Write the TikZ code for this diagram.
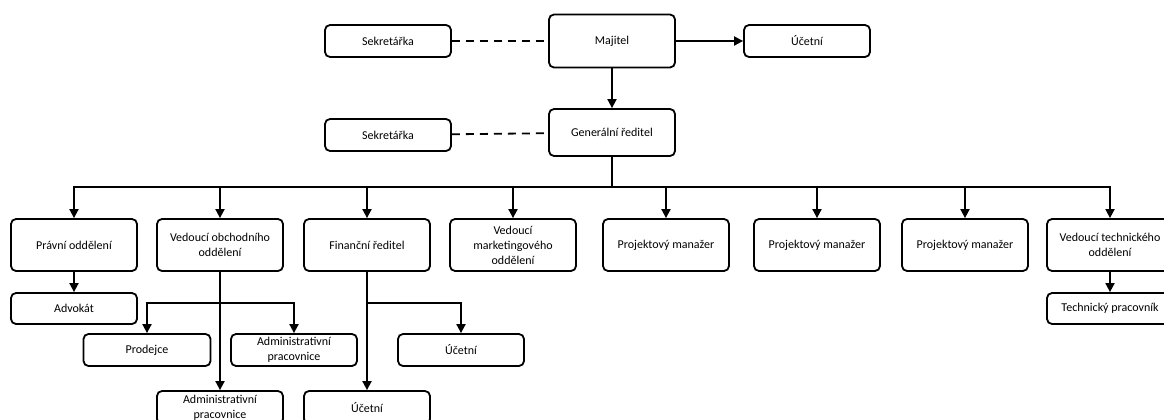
\documentclass[tikz,border=0pt]{standalone}
\usepackage{fontspec}
\setmainfont{Carlito}
\usepackage{tikz}
\usetikzlibrary{arrows.meta}

\begin{document}
\begin{tikzpicture}[x=1pt, y=-1pt,
		box/.style={draw, line width=1.8pt, rounded corners=5pt, inner sep=0pt, align=center,
			minimum width=126pt, font=\fontsize{12}{15}\selectfont},
		link/.style={line width=1.8pt, -{Triangle[length=9pt, width=9pt]}},
		dashline/.style={line width=1.8pt, dash pattern=on 8pt off 6pt}]
				\useasboundingbox (0,0) rectangle (1164,420);
				% Nodes:
				\node[box, minimum height=53pt](Maj) at (612, 41){Majitel};
				\node[box, minimum height=32pt](Sek1) at (388, 41){Sekretářka};
				\node[box, minimum height=32pt](Uc0) at (807, 41){Účetní};
				\node[box, minimum height=47pt](Gr) at (612, 132.5){Generální ředitel};
				\node[box, minimum height=32pt](Sek2) at (388, 135){Sekretářka};
				\node[box, minimum height=52pt](Prav) at (74, 245){Právní oddělení};
				\node[box, minimum height=52pt](Obch) at (220, 245){Vedoucí obchodního\\oddělení};
				\node[box, minimum height=52pt](Fin) at (367, 245){Finanční ředitel};
				\node[box, minimum height=52pt](Mark) at (513, 245){Vedoucí\\marketingového\\oddělení};
				\node[box, minimum height=52pt](Pm1) at (666, 245){Projektový manažer};
				\node[box, minimum height=52pt](Pm2) at (817, 245){Projektový manažer};
				\node[box, minimum height=52pt](Pm3) at (965, 245){Projektový manažer};
				\node[box, minimum height=52pt](Tech) at (1110, 245){Vedoucí technického\\oddělení};
				\node[box, minimum height=31pt](Adv) at (74, 308.5){Advokát};
				\node[box, minimum height=31pt](Techp) at (1110, 308.5){Technický pracovník};
				\node[box, minimum height=32pt, minimum width=127pt](Prod) at (147, 350){Prodejce};
				\node[box, minimum height=32pt](Adm1) at (294, 350){Administrativní\\pracovnice};
				\node[box, minimum height=32pt](Uc1) at (461, 350){Účetní};
				\node[box, minimum height=33pt](Adm2) at (220, 407.5){Administrativní\\pracovnice};
				\node[box, minimum height=33pt](Uc2) at (367, 407.5){Účetní};
				\coordinate (Bus) at (612, 187);
				\coordinate (ObchBar) at (220, 303);
				\coordinate (FinBar) at (367, 303);
				% Connectors:
				\draw[dashline] (Sek1) -- (Maj);
				\draw[dashline] (Sek2) -- (Gr);
				\draw[link] (Maj) -- (Uc0);
				\draw[link] (Maj) -- (Gr);
				\draw[line width=1.8pt] (Gr) -- (Bus);
				\draw[link] (Bus) -| (Prav.north);
				\draw[link] (Bus) -| (Obch.north);
				\draw[link] (Bus) -| (Fin.north);
				\draw[link] (Bus) -| (Mark.north);
				\draw[link] (Bus) -| (Pm1.north);
				\draw[link] (Bus) -| (Pm2.north);
				\draw[link] (Bus) -| (Pm3.north);
				\draw[link] (Bus) -| (Tech.north);
				\draw[link] (Prav) -- (Adv);
				\draw[link] (Tech) -- (Techp);
				\draw[link] (Obch) -- (Adm2);
				\draw[link] (ObchBar) -| (Prod.north);
				\draw[link] (ObchBar) -| (Adm1.north);
				\draw[link] (Fin) -- (Uc2);
				\draw[link] (FinBar) -| (Uc1.north);
			\end{tikzpicture}
\end{document}
